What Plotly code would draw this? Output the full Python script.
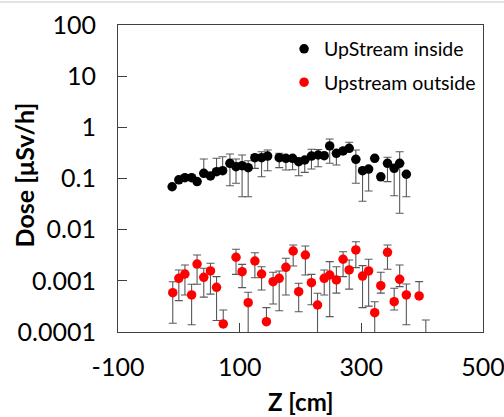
import plotly.graph_objects as go

# UpStream inside: position Z [cm], dose [uSv/h], upper/lower error
z_inside = [-11, 0, 10, 21, 30, 41, 52, 62, 72, 84, 94, 104, 114, 125, 136, 146,
            165, 176, 187, 197, 207, 218, 229, 239, 248, 259, 270, 280, 291, 302,
            312, 322, 332, 343, 354, 363, 374]
dose_inside = [0.069, 0.094, 0.104, 0.104, 0.087, 0.126, 0.112, 0.136, 0.142, 0.198,
               0.170, 0.178, 0.163, 0.255, 0.255, 0.275, 0.255, 0.248, 0.248, 0.213,
               0.230, 0.275, 0.288, 0.279, 0.432, 0.311, 0.345, 0.389, 0.237, 0.142,
               0.153, 0.248, 0.108, 0.198, 0.158, 0.198, 0.121]
err_inside_up = [0, 0, 0, 0, 0, 0.114, 0, 0.112, 0.125, 0.103, 0.07, 0.11, 0.06, 0.04,
                 0.079, 0.086, 0.056, 0, 0, 0, 0, 0.097, 0.08, 0, 0.159, 0, 0, 0.121,
                 0.124, 0, 0, 0, 0, 0.062, 0, 0.136, 0]
err_inside_down = [0, 0, 0, 0, 0, 0, 0, 0, 0, 0.126, 0.089, 0.134, 0.119, 0.097, 0.147,
                   0.133, 0.092, 0.101, 0.1, 0.1, 0.098, 0.122, 0.118, 0, 0.234, 0.127,
                   0, 0, 0.156, 0.106, 0.096, 0, 0, 0.111, 0.112, 0.177, 0.077]

# Upstream outside
z_outside = [-10, 0, 10, 21, 30, 41, 52, 62, 73, 94, 104, 114, 125, 136, 144, 155, 165,
             176, 188, 197, 208, 218, 228, 239, 248, 259, 270, 280, 291, 302, 312, 322,
             332, 343, 354, 363, 374, 395, 406]
dose_outside = [5.86e-4, 1.12e-3, 1.36e-3, 5.29e-4, 2.13e-3, 1.17e-3, 1.56e-3, 7.48e-4,
                1.44e-4, 2.89e-3, 1.51e-3, 3.74e-4, 2.44e-3, 1.36e-3, 1.59e-4, 9.62e-4,
                1.12e-3, 1.84e-3, 3.83e-3, 6.14e-4, 3.20e-3, 9.20e-4, 3.37e-4, 1.12e-3,
                1.30e-3, 1.04e-3, 2.64e-3, 1.63e-3, 4.01e-3, 1.24e-3, 1.56e-3, 2.39e-4,
                8.04e-4, 3.61e-3, 3.91e-4, 1.07e-3, 5.29e-4, 5.06e-4, 5e-5]
err_outside_up = [3.76e-4, 5.1e-4, 6.8e-4, 3.3e-4, 1.07e-3, 5.9e-4, 6.4e-4, 4.6e-4,
                  1.25e-4, 1.25e-3, 5.9e-4, 2.23e-4, 1.11e-3, 5.3e-4, 1.4e-4, 5.1e-4,
                  4.4e-4, 9.2e-4, 1.19e-3, 2.8e-4, 1.6e-3, 4.2e-4, 2.34e-4, 5.1e-4,
                  1.07e-3, 8.5e-4, 1.07e-3, 9.2e-4, 1.81e-3, 7.4e-4, 1.08e-3, 1.52e-4,
                  6.7e-4, 1.41e-3, 3.24e-4, 9.7e-4, 3.4e-4, 4.6e-4, 1.22e-4]
err_outside_down = [4.38e-4, 7.1e-4, 8.3e-4, 3.9e-4, 1.27e-3, 6.9e-4, 1.01e-3, 5.8e-4,
                    0, 1.55e-3, 7.75e-4, 4e-4, 1.29e-3, 7.0e-4, 0, 6.1e-4, 8.6e-4,
                    1.31e-3, 1.88e-3, 3.65e-4, 1.9e-3, 5.8e-4, 4e-4, 5.9e-4, 1.1e-3,
                    4.65e-4, 1.43e-3, 9.4e-4, 2.2e-3, 9.4e-4, 1.24e-3, 3e-4, 2.3e-4,
                    1.93e-3, 1.22e-4, 3.0e-4, 3.9e-4, 0, 0]

y_tickvals = [1e-4, 1e-3, 1e-2, 1e-1, 1, 10, 100]
y_ticktext = ["0.0001", "0.001", "0.01", "0.1", "1", "10", "100"]
x_tickvals = [-100, 100, 300, 500]
x_ticktext = ["-100", "100", "300", "500"]

FONT = "Lato, Carlito, 'Liberation Sans', sans-serif"
AXIS_COLOR = "#404040"
ERR_COLOR = "#595959"

# plot area in pixels: left 118, right 483, top 25, bottom 332
PLOT_W, PLOT_H = 365, 307

fig = go.Figure()

fig.add_trace(go.Scatter(
    x=z_inside, y=dose_inside, mode="markers", name="UpStream inside",
    legendgroup="in",
    marker=dict(color="black", size=9.5),
    error_y=dict(type="data", symmetric=False, array=err_inside_up,
                 arrayminus=err_inside_down, color=ERR_COLOR, thickness=1.1, width=4),
))
fig.add_trace(go.Scatter(
    x=z_outside, y=dose_outside, mode="markers", name="Upstream outside",
    legendgroup="out",
    marker=dict(color="#ff0000", size=9.5),
    error_y=dict(type="data", symmetric=False, array=err_outside_up,
                 arrayminus=err_outside_down, color=ERR_COLOR, thickness=1.1, width=4),
))

fig.update_layout(
    width=504, height=417,
    margin=dict(l=118, r=21, t=25, b=85, autoexpand=False),
    paper_bgcolor="white", plot_bgcolor="white",
    font=dict(family=FONT, color="black"),
    showlegend=True,
    legend=dict(x=0.455, y=0.985, xanchor="left", yanchor="top",
                font=dict(size=19.5, family=FONT), tracegroupgap=5,
                bgcolor="rgba(0,0,0,0)"),
    xaxis=dict(
        range=[-100, 500], tickmode="array", tickvals=x_tickvals,
        ticktext=x_ticktext, automargin=False, ticklabeloverflow="allow",
        ticks="inside", ticklen=9, tickcolor=AXIS_COLOR, tickwidth=1,
        showline=True, linecolor=AXIS_COLOR, linewidth=1.2, mirror=True,
        showgrid=False, zeroline=False,
        tickfont=dict(size=25, family=FONT), ticklabelstandoff=13,
    ),
    yaxis=dict(
        type="log", range=[-4, 2], tickmode="array", tickvals=y_tickvals,
        ticktext=y_ticktext, automargin=False,
        ticks="inside", ticklen=9, tickcolor=AXIS_COLOR, tickwidth=1,
        showline=True, linecolor=AXIS_COLOR, linewidth=1.2, mirror=True,
        showgrid=False, zeroline=False,
        tickfont=dict(size=25, family=FONT), ticklabelstandoff=16,
    ),
    annotations=[
        dict(text="<b>Dose [μSv/h]</b>", textangle=-90,
             xref="paper", yref="paper", x=(24 - 118) / PLOT_W, y=0.51,
             xanchor="center", yanchor="middle", showarrow=False,
             font=dict(size=25, family=FONT, color="black")),
        dict(text="<b>Z [cm]</b>",
             xref="paper", yref="paper", x=0.5, y=(332 - 401) / PLOT_H,
             xanchor="center", yanchor="middle", showarrow=False,
             font=dict(size=24, family=FONT, color="black")),
    ],
    shapes=[dict(type="line", xref="paper", yref="paper",
                 x0=-118 / PLOT_W, x1=386 / PLOT_W, y0=1 + 23 / PLOT_H, y1=1 + 23 / PLOT_H,
                 line=dict(color="#d9d9d9", width=1.5))],
)

fig.write_html("out.html")
